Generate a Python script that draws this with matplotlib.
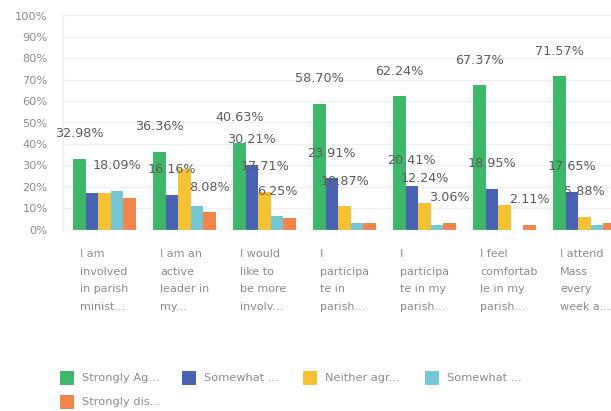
import matplotlib.pyplot as plt
import numpy as np

# Survey statements (axis labels are pre-wrapped and truncated as displayed)
statements = [
    "I am\ninvolved\nin parish\nminist...",
    "I am an\nactive\nleader in\nmy...",
    "I would\nlike to\nbe more\ninvolv...",
    "I\nparticipa\nte in\nparish...",
    "I\nparticipa\nte in my\nparish...",
    "I feel\ncomfortab\nle in my\nparish...",
    "I attend\nMass\nevery\nweek a...",
]

series_names = ["Strongly Ag...", "Somewhat ...", "Neither agr...", "Somewhat ...", "Strongly dis..."]

strongly_agree    = [32.98, 36.36, 40.63, 58.70, 62.24, 67.37, 71.57]
somewhat_agree    = [17.02, 16.16, 30.21, 23.91, 20.41, 18.95, 17.65]
neither           = [17.02, 28.28, 17.71, 10.87, 12.24, 11.58, 5.88]
somewhat_disagree = [18.09, 11.11, 6.25, 3.26, 2.04, 0.00, 1.96]
strongly_disagree = [14.89, 8.08, 5.21, 3.26, 3.06, 2.11, 2.94]

y_ticks = [0, 10, 20, 30, 40, 50, 60, 70, 80, 90, 100]

series = [strongly_agree, somewhat_agree, neither, somewhat_disagree, strongly_disagree]
colors = ["#3db86b", "#4963b2", "#f5c233", "#74c7d2", "#f1854c"]

# value labels that remain visible (group index, series index)
visible_labels = {
    (0, 0), (0, 3),
    (1, 0), (1, 1), (1, 4),
    (2, 0), (2, 1), (2, 2), (2, 3),
    (3, 0), (3, 1), (3, 2),
    (4, 0), (4, 1), (4, 2), (4, 4),
    (5, 0), (5, 1), (5, 4),
    (6, 0), (6, 1), (6, 2),
}

W, H = 611, 411
fig = plt.figure(figsize=(W / 100, H / 100), dpi=100)
ax_left, ax_right = 63, 611
ax_top, ax_bottom = 15.5, 229.5
ax = fig.add_axes([ax_left / W, 1 - ax_bottom / H,
                   (ax_right - ax_left) / W, (ax_bottom - ax_top) / H])

group_step = 80.0
bw = 12.6 / group_step
x = np.arange(len(statements))
offsets = (np.arange(len(series)) - 2) * bw

label_color = "#5a5a5a"
for s, (vals, col) in enumerate(zip(series, colors)):
    bars = ax.bar(x + offsets[s], vals, width=bw, color=col, zorder=3, linewidth=0)
    for g, b in enumerate(bars):
        if (g, s) in visible_labels:
            ax.annotate(f"{vals[g]:.2f}%", (b.get_x() + b.get_width() / 2, vals[g]),
                        xytext=(0, 18), textcoords="offset points",
                        ha="center", va="center", fontsize=9.2,
                        color=label_color, zorder=5)

ax.set_xlim(-(104.5 - ax_left) / group_step, (ax_right - 104.5) / group_step)
ax.set_ylim(0, 100)
ax.set_yticks(y_ticks)
ax.set_yticklabels([f"{t}%" for t in y_ticks])
ax.tick_params(axis="y", length=0, pad=11, labelsize=8.2, labelcolor="#8a8a8a")
ax.tick_params(axis="x", length=0, labelbottom=False)

for t in y_ticks[1:]:
    ax.axhline(t, color="#efefef", linewidth=0.9, zorder=1)
ax.axhline(0, color="#c8c8c8", linewidth=1.0, linestyle=(0, (1.5, 1.5)), zorder=4)

for sp in ["top", "right", "bottom"]:
    ax.spines[sp].set_visible(False)
ax.spines["left"].set_color("#ececec")
ax.spines["left"].set_linewidth(0.9)

# wrapped category labels, left-aligned under each group
for g, txt in enumerate(statements):
    ax.annotate(txt, (x[g] + offsets[0] - bw / 2, 0), xycoords="data",
                xytext=(5, -14), textcoords="offset points",
                ha="left", va="top", fontsize=8.0, color="#8a8a8a",
                linespacing=1.95)

# legend drawn as square swatches with truncated names
legend_rows = [(378, [(60, 0), (182, 1), (303, 2), (425, 3)]), (402, [(60, 4)])]
for ypix, items in legend_rows:
    for xpix, s in items:
        fig.patches.append(plt.Rectangle(((xpix) / W, 1 - (ypix + 7) / H), 14 / W, 14 / H,
                                         transform=fig.transFigure, color=colors[s],
                                         linewidth=0))
        fig.text((xpix + 22) / W, 1 - ypix / H, series_names[s], fontsize=8.2,
                 color="#8a8a8a", ha="left", va="center")

fig.savefig("out.png", dpi=100)
